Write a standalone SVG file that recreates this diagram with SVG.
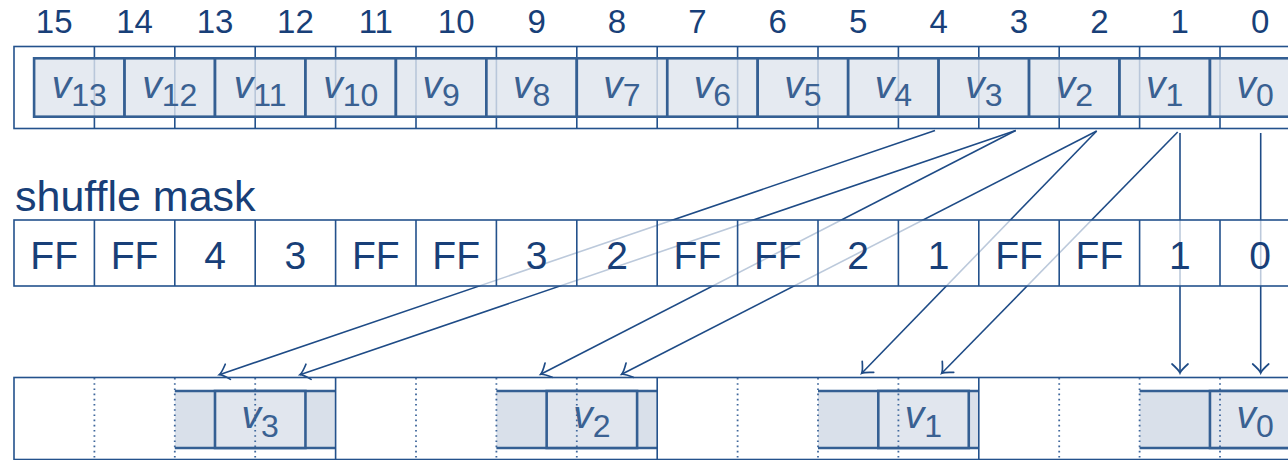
<svg xmlns="http://www.w3.org/2000/svg" width="1288" height="460" viewBox="0 0 1288 460">
<defs>
<style>
.idx{font-family:"Liberation Sans",Arial,sans-serif;font-size:33px;fill:#183f78;text-anchor:middle}
.lbl{font-family:"Liberation Sans",Arial,sans-serif;font-size:43px;fill:#183f78}
.mv{font-family:"Liberation Sans",Arial,sans-serif;font-size:39px;fill:#183f78;text-anchor:middle}
.vl{font-family:"Liberation Sans",Arial,sans-serif;font-size:39px;fill:#3a6192;text-anchor:middle}
.vl .s{font-size:32px;font-style:normal}
.vl .i{font-style:italic}
.grid{fill:none;stroke:#24528c;stroke-width:1.6}
.ib{fill:#dfe5ee;fill-opacity:0.8;stroke:#345f93;stroke-width:2.6}
.ob{fill:#e1e6ee;stroke:#345f93;stroke-width:2.6}
.gb{fill:#d9e0ea;stroke:none}
.gl{stroke:#345f93;stroke-width:2.6}
.dot{stroke:#3f679b;stroke-width:1.8;stroke-dasharray:1.6 3.6}
.conn{fill:none;stroke:#1e4b86;stroke-width:1.6;marker-end:url(#ah)}
.mask{fill:#ffffff;fill-opacity:0.7;stroke:#24528c;stroke-width:1.6}
</style>
<marker id="ah" markerUnits="userSpaceOnUse" markerWidth="24" markerHeight="24" refX="0" refY="0" viewBox="-12 -12 24 24" orient="auto" overflow="visible">
<path d="M -9 -8 Q -3 -1.2 0 0 Q -3 1.2 -9 8" fill="none" stroke="#1e4b86" stroke-width="1.7" stroke-linecap="round"/>
</marker>
</defs>
<rect width="1288" height="460" fill="#ffffff"/>

<g id="indices">
<text class="idx" x="54.2" y="33">15</text>
<text class="idx" x="134.6" y="33">14</text>
<text class="idx" x="215" y="33">13</text>
<text class="idx" x="295.4" y="33">12</text>
<text class="idx" x="375.8" y="33">11</text>
<text class="idx" x="456.2" y="33">10</text>
<text class="idx" x="536.6" y="33">9</text>
<text class="idx" x="617" y="33">8</text>
<text class="idx" x="697.4" y="33">7</text>
<text class="idx" x="777.8" y="33">6</text>
<text class="idx" x="858.2" y="33">5</text>
<text class="idx" x="938.6" y="33">4</text>
<text class="idx" x="1019" y="33">3</text>
<text class="idx" x="1099.4" y="33">2</text>
<text class="idx" x="1179.8" y="33">1</text>
<text class="idx" x="1260.2" y="33">0</text>
</g>

<g id="input-register">
<rect class="grid" x="14" y="46.5" width="1300" height="82"/>
<path class="grid" d="M94.4 46.5V128.5M174.8 46.5V128.5M255.2 46.5V128.5M335.6 46.5V128.5M416 46.5V128.5M496.4 46.5V128.5M576.8 46.5V128.5M657.2 46.5V128.5M737.6 46.5V128.5M818 46.5V128.5M898.4 46.5V128.5M978.8 46.5V128.5M1059.2 46.5V128.5M1139.6 46.5V128.5M1220 46.5V128.5"/>
<rect class="ib" x="34.1" y="58.3" width="90.45" height="58.4"/>
<rect class="ib" x="124.55" y="58.3" width="90.45" height="58.4"/>
<rect class="ib" x="215" y="58.3" width="90.45" height="58.4"/>
<rect class="ib" x="305.45" y="58.3" width="90.45" height="58.4"/>
<rect class="ib" x="395.9" y="58.3" width="90.45" height="58.4"/>
<rect class="ib" x="486.35" y="58.3" width="90.45" height="58.4"/>
<rect class="ib" x="576.8" y="58.3" width="90.45" height="58.4"/>
<rect class="ib" x="667.25" y="58.3" width="90.45" height="58.4"/>
<rect class="ib" x="757.7" y="58.3" width="90.45" height="58.4"/>
<rect class="ib" x="848.15" y="58.3" width="90.45" height="58.4"/>
<rect class="ib" x="938.6" y="58.3" width="90.45" height="58.4"/>
<rect class="ib" x="1029.05" y="58.3" width="90.45" height="58.4"/>
<rect class="ib" x="1119.5" y="58.3" width="90.45" height="58.4"/>
<rect class="ib" x="1209.95" y="58.3" width="90.45" height="58.4"/>
<text class="vl" x="79.3" y="98"><tspan class="i">v</tspan><tspan class="s" dy="8">13</tspan></text>
<text class="vl" x="169.8" y="98"><tspan class="i">v</tspan><tspan class="s" dy="8">12</tspan></text>
<text class="vl" x="260.2" y="98"><tspan class="i">v</tspan><tspan class="s" dy="8">11</tspan></text>
<text class="vl" x="350.7" y="98"><tspan class="i">v</tspan><tspan class="s" dy="8">10</tspan></text>
<text class="vl" x="441.1" y="98"><tspan class="i">v</tspan><tspan class="s" dy="8">9</tspan></text>
<text class="vl" x="531.6" y="98"><tspan class="i">v</tspan><tspan class="s" dy="8">8</tspan></text>
<text class="vl" x="622" y="98"><tspan class="i">v</tspan><tspan class="s" dy="8">7</tspan></text>
<text class="vl" x="712.5" y="98"><tspan class="i">v</tspan><tspan class="s" dy="8">6</tspan></text>
<text class="vl" x="802.9" y="98"><tspan class="i">v</tspan><tspan class="s" dy="8">5</tspan></text>
<text class="vl" x="893.4" y="98"><tspan class="i">v</tspan><tspan class="s" dy="8">4</tspan></text>
<text class="vl" x="983.8" y="98"><tspan class="i">v</tspan><tspan class="s" dy="8">3</tspan></text>
<text class="vl" x="1074.3" y="98"><tspan class="i">v</tspan><tspan class="s" dy="8">2</tspan></text>
<text class="vl" x="1164.7" y="98"><tspan class="i">v</tspan><tspan class="s" dy="8">1</tspan></text>
<text class="vl" x="1255.2" y="98"><tspan class="i">v</tspan><tspan class="s" dy="8">0</tspan></text>
</g>

<g id="connectors">
<path class="conn" d="M935 130.5L219.3 374.7"/>
<path class="conn" d="M1015.7 130.5L300 374.7"/>
<path class="conn" d="M1015.7 130.5L540.7 374.3"/>
<path class="conn" d="M1096.7 131L621.7 374.3"/>
<path class="conn" d="M1096.7 131L861.7 373.3"/>
<path class="conn" d="M1177.7 132L941.7 373.3"/>
<path class="conn" d="M1180 133L1180 373"/>
<path class="conn" d="M1260.7 133L1260.7 373"/>
</g>

<g id="shuffle-mask">
<text class="lbl" x="15" y="211">shuffle mask</text>
<rect class="mask" x="14" y="220" width="1300" height="66"/>
<path class="grid" d="M94.4 220V286M174.8 220V286M255.2 220V286M335.6 220V286M416 220V286M496.4 220V286M576.8 220V286M657.2 220V286M737.6 220V286M818 220V286M898.4 220V286M978.8 220V286M1059.2 220V286M1139.6 220V286M1220 220V286"/>
<text class="mv" x="54.2" y="269">FF</text>
<text class="mv" x="134.6" y="269">FF</text>
<text class="mv" x="215" y="269">4</text>
<text class="mv" x="295.4" y="269">3</text>
<text class="mv" x="375.8" y="269">FF</text>
<text class="mv" x="456.2" y="269">FF</text>
<text class="mv" x="536.6" y="269">3</text>
<text class="mv" x="617" y="269">2</text>
<text class="mv" x="697.4" y="269">FF</text>
<text class="mv" x="777.8" y="269">FF</text>
<text class="mv" x="858.2" y="269">2</text>
<text class="mv" x="938.6" y="269">1</text>
<text class="mv" x="1019" y="269">FF</text>
<text class="mv" x="1099.4" y="269">FF</text>
<text class="mv" x="1179.8" y="269">1</text>
<text class="mv" x="1260.2" y="269">0</text>
</g>

<g id="output-register">
<rect class="grid" x="14" y="377.5" width="1300" height="82"/>
<rect class="gb" x="174.8" y="391" width="160.8" height="57"/>
<rect class="gb" x="496.4" y="391" width="160.8" height="57"/>
<rect class="gb" x="818" y="391" width="160.8" height="57"/>
<rect class="gb" x="1139.6" y="391" width="160.8" height="57"/>
<path class="gl" d="M174.8 391H335.6M174.8 448H335.6M496.4 391H657.2M496.4 448H657.2M818 391H978.8M818 448H978.8M1139.6 391H1300.4M1139.6 448H1300.4"/>
<rect class="ob" x="215" y="391" width="90.45" height="57"/>
<rect class="ob" x="546.65" y="391" width="90.45" height="57"/>
<rect class="ob" x="878.3" y="391" width="90.45" height="57"/>
<rect class="ob" x="1209.95" y="391" width="90.45" height="57"/>
<path class="dot" d="M94.4 378V459M174.8 378V459M255.2 378V459M416 378V459M496.4 378V459M576.8 378V459M737.6 378V459M818 378V459M898.4 378V459M1059.2 378V459M1139.6 378V459M1220 378V459"/>
<path class="grid" d="M335.6 377.5V459.5M657.2 377.5V459.5M978.8 377.5V459.5"/>
<text class="vl" x="260.2" y="428"><tspan class="i">v</tspan><tspan class="s" dy="9">3</tspan></text>
<text class="vl" x="591.9" y="428"><tspan class="i">v</tspan><tspan class="s" dy="9">2</tspan></text>
<text class="vl" x="923.5" y="428"><tspan class="i">v</tspan><tspan class="s" dy="9">1</tspan></text>
<text class="vl" x="1255.2" y="428"><tspan class="i">v</tspan><tspan class="s" dy="9">0</tspan></text>
</g>
</svg>
